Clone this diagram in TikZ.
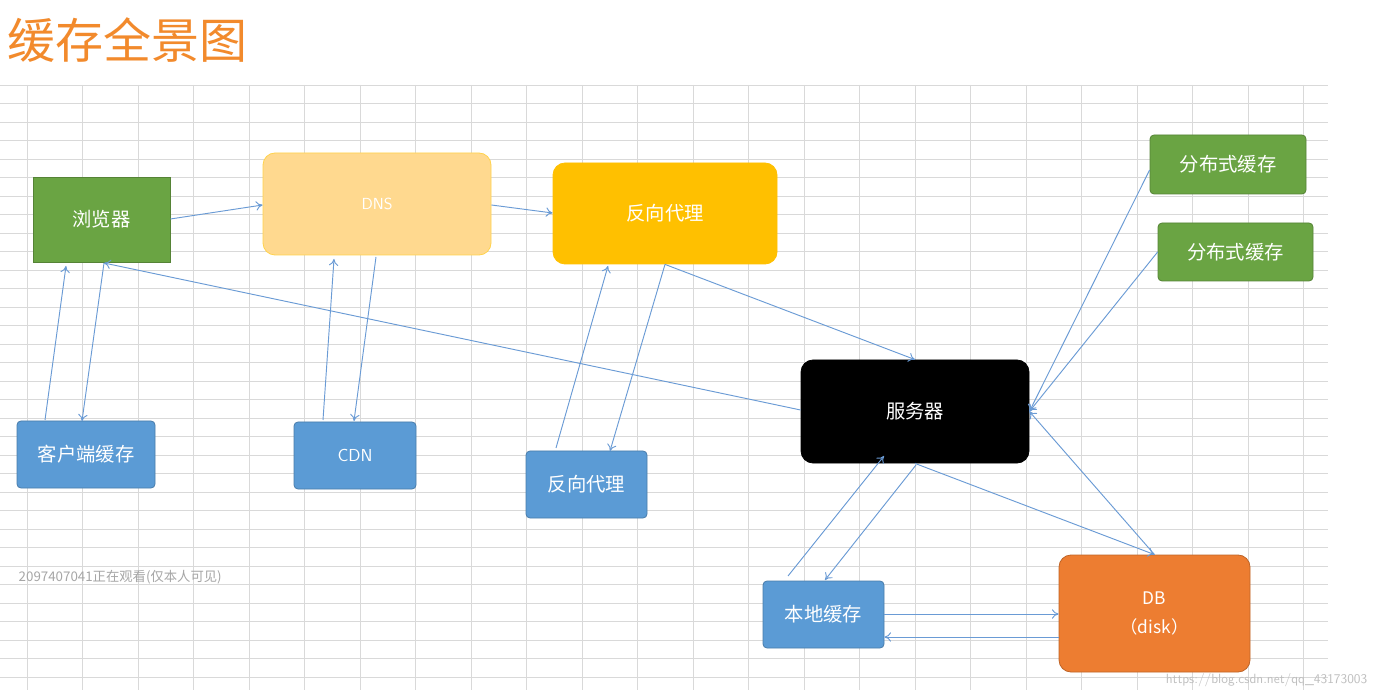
\documentclass[tikz,border=0pt]{standalone}
\usepackage{fontspec}
\newfontfamily\cjk{Noto Sans CJK SC}
\usetikzlibrary{arrows.meta}
\definecolor{gridc}{HTML}{D9D9D9}
\definecolor{arr}{HTML}{6A9BD5}
\definecolor{grn}{HTML}{6AA443}
\definecolor{blu}{HTML}{5B9BD5}
\definecolor{gold}{HTML}{FFC000}
\definecolor{dnsf}{HTML}{FFD98F}
\definecolor{org}{HTML}{ED7D31}
\definecolor{ttl}{HTML}{F28A2C}
\begin{document}
\begin{tikzpicture}[x=0.75pt,y=-0.75pt,
  box/.style={draw=#1!80!black,fill=#1,text=white,font=\cjk\fontsize{14.5}{16}\selectfont,inner sep=0pt,line width=0.6pt},
  arw/.style={draw=arr,line width=0.7pt,-{To[length=5pt,width=7pt]}}]
\useasboundingbox (0,0) rectangle (1378,698);
\fill[white] (0,0) rectangle (1378,698);
\foreach \i in {0,...,32} \draw[gridc,line width=0.6pt] (0,85+\i*18.5) -- (1328,85+\i*18.5);
\foreach \i in {0,...,23} \draw[gridc,line width=0.6pt] (27+\i*55.5,85) -- (27+\i*55.5,690);
\node[anchor=west,text=ttl,font=\cjk\fontsize{36}{40}\selectfont] (title) at (3,40) {缓存全景图};
\node[box=grn,minimum width=102.75pt,minimum height=63.75pt] (br) at (101.5,219.5) {浏览器};
\node[box=dnsf,draw=gold!70,rounded corners=9pt,minimum width=171pt,minimum height=76.5pt,font=\sffamily\fontsize{12}{14}\selectfont] (dns) at (377,204) {DNS};
\node[box=gold,draw=gold,rounded corners=9pt,minimum width=168pt,minimum height=75.75pt] (rp1) at (665,213.5) {反向代理};
\node[box=grn,rounded corners=3pt,minimum width=117pt,minimum height=44.25pt] (d1) at (1228,164.5) {分布式缓存};
\node[box=grn,rounded corners=3pt,minimum width=116.25pt,minimum height=43.5pt] (d2) at (1235.5,252) {分布式缓存};
\node[box=black,rounded corners=9pt,minimum width=171pt,minimum height=77.25pt] (srv) at (915,411.5) {服务器};
\node[box=blu,rounded corners=3pt,minimum width=103.5pt,minimum height=50.25pt] (cc) at (86,454.5) {客户端缓存};
\node[box=blu,rounded corners=3pt,minimum width=91.5pt,minimum height=50.25pt,font=\sffamily\fontsize{13}{15}\selectfont] (cdn) at (355,455.5) {CDN};
\node[box=blu,rounded corners=3pt,minimum width=90.75pt,minimum height=50.25pt] (rp2) at (586.5,484.5) {反向代理};
\node[box=blu,rounded corners=3pt,minimum width=90.75pt,minimum height=50.25pt] (lc) at (823.5,614.5) {本地缓存};
\node[box=org,rounded corners=9pt,minimum width=143.25pt,minimum height=87.75pt,align=center,font=\cjk\fontsize{13}{22}\selectfont] (db) at (1154.5,613.5) {DB\\（disk）};
\node[anchor=west,font=\cjk\fontsize{10}{12}\selectfont,text=gray!70] (wm) at (14,577) {2097407041正在观看(仅本人可见)};
\node[anchor=east,text=gray!50,font=\sffamily\fontsize{10}{12}\selectfont] (url) at (1372,680) {https://blog.csdn.net/qq\_43173003};
% connectors
\draw[arw] (br.east |- 0,219) -- (dns.west |- 0,205);
\draw[arw] (dns.east |- 0,205) -- (rp1.west |- 0,213);
\draw[arw] (45,420) -- (66,266);
\draw[arw] (104,263) -- (82,421);
\draw[arw] (323,420) -- (334,259);
\draw[arw] (376,257) -- (354,421);
\draw[arw] (556,448) -- (608,266);
\draw[arw] (rp1.south) -- (610,451);
\draw[arw] (rp1.south) -- (srv.north);
\draw[arw] (srv.west |- 0,410) -- (104,263);
\draw[arw] (d1.west |- 0,170) -- (srv.east);
\draw[arw] (d2.west |- 0,252) -- (srv.east);
\draw[arw] (db.north) -- (srv.east);
\draw[arw] (srv.south) -- (db.north);
\draw[arw] (788,576) -- (884,456);
\draw[arw] (916,465) -- (825,580);
\draw[arw] (lc.east |- 0,614) -- (db.west |- 0,614);
\draw[arw] (db.west |- 0,637) -- (lc.east |- 0,637);
\end{tikzpicture}
\end{document}
